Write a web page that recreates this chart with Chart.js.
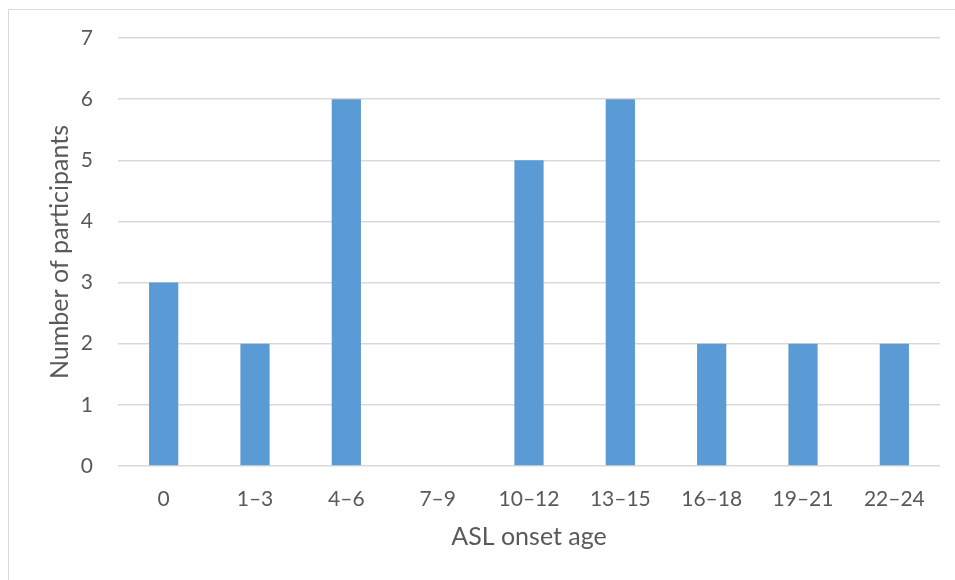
<!DOCTYPE html>
<html>
<head>
<meta charset="utf-8">
<script src="https://cdn.jsdelivr.net/npm/chart.js@4/dist/chart.umd.min.js"></script>
<style>
  html, body { margin: 0; padding: 0; background: #ffffff; }
  body { width: 955px; height: 580px; position: relative; overflow: hidden; }
  .frame {
    position: absolute; left: 8px; top: 9px; width: 1000px; height: 620px;
    border-left: 1px solid #d9d9d9; border-top: 1px solid #d9d9d9;
  }
  #wrap { position: absolute; left: 0; top: 0; width: 955px; height: 580px; }
</style>
</head>
<body>
<div class="frame"></div>
<div id="wrap"><canvas id="c" width="955" height="580"></canvas></div>
<script>
// ASL onset age groups and participant counts per group
const categories = ['0', '1\u20133', '4\u20136', '7\u20139', '10\u201312', '13\u201315', '16\u201318', '19\u201321', '22\u201324'];
const participants = [3, 2, 6, 0, 5, 6, 2, 2, 2];
const yTicks = [0, 1, 2, 3, 4, 5, 6, 7];

const textColor = '#595959';
const gridColor = '#d9d9d9';
const fontFamily = 'Lato, "Open Sans", sans-serif';

new Chart(document.getElementById('c'), {
  type: 'bar',
  data: {
    labels: categories,
    datasets: [{
      data: participants,
      backgroundColor: '#5b9bd5',
      borderWidth: 0,
      categoryPercentage: 1,
      barPercentage: 0.32
    }]
  },
  options: {
    responsive: false,
    animation: false,
    layout: { padding: { top: 38, right: 15, left: 0, bottom: 0 } },
    plugins: { legend: { display: false }, tooltip: { enabled: false } },
    scales: {
      x: {
        grid: { display: false, drawTicks: false },
        border: { display: false },
        ticks: { color: textColor, font: { family: fontFamily, size: 21 }, padding: 21, maxRotation: 0 },
        title: {
          display: true, text: 'ASL onset age', color: textColor,
          font: { family: fontFamily, size: 25 }, padding: { top: 0, bottom: 28 }
        },
        afterFit: s => { s.height = 114; }
      },
      y: {
        min: 0, max: 7,
        afterBuildTicks: s => { s.ticks = yTicks.map(v => ({ value: v })); },
        grid: { color: gridColor, lineWidth: 1.5, drawTicks: false },
        border: { display: false },
        ticks: { color: textColor, font: { family: fontFamily, size: 21 }, padding: 25 },
        title: {
          display: true, text: 'Number of participants', color: textColor,
          font: { family: fontFamily, size: 25 }, padding: { top: 45, bottom: 0 }
        },
        afterFit: s => { s.width = 118; }
      }
    }
  }
});
</script>
</body>
</html>
